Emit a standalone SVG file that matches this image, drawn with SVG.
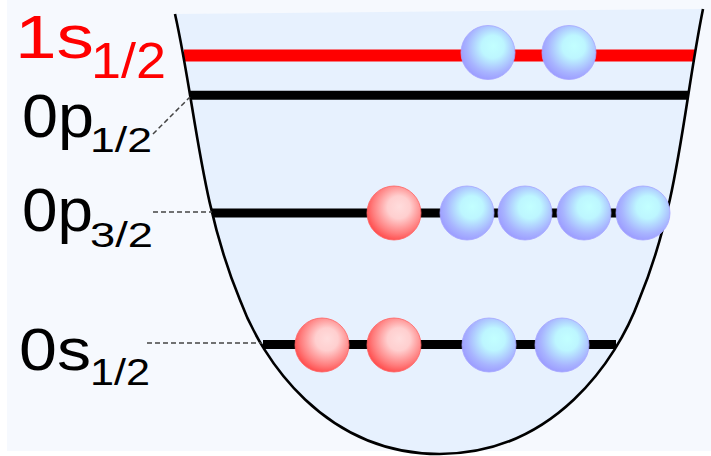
<svg xmlns="http://www.w3.org/2000/svg" width="711" height="456" viewBox="0 0 711 456">
  <defs>
    <radialGradient id="gBlue" cx="0.57" cy="0.42" r="0.6" fx="0.6" fy="0.38">
      <stop offset="0" stop-color="#c2ffff"/>
      <stop offset="0.35" stop-color="#bdf6ff"/>
      <stop offset="0.78" stop-color="#a8b4ff"/>
      <stop offset="1" stop-color="#9c9cff"/>
    </radialGradient>
    <radialGradient id="gRed" cx="0.57" cy="0.42" r="0.6" fx="0.6" fy="0.38">
      <stop offset="0" stop-color="#ffdcdc"/>
      <stop offset="0.35" stop-color="#ffcfcf"/>
      <stop offset="0.78" stop-color="#ff7d7d"/>
      <stop offset="1" stop-color="#ff4d4d"/>
    </radialGradient>
    <style>
      .lbl { font-family: "Liberation Sans", Arial, Helvetica, sans-serif; fill: #000; }
      .red { fill: #ff0000; }
      .lvl { stroke: #000; stroke-width: 9; fill: none; }
      .lvlred { stroke: #ff0000; stroke-width: 12; fill: none; }
      .lead { stroke: #444; stroke-width: 1.5; stroke-dasharray: 5 3; fill: none; }
      .blue { fill: url(#gBlue); stroke: #a6a6ff; stroke-width: 0.8; }
      .redb { fill: url(#gRed); stroke: #ff6262; stroke-width: 0.8; }
    </style>
  </defs>

  <rect x="0" y="0" width="711" height="456" fill="#ffffff"/>
  <rect x="7" y="0" width="704" height="451" fill="#f6f9fe"/>

  <g id="well">
    <path d="M175,14 C196,108 200,204 240,300 C262,360 325,454 439.5,454 C554,454 617,360 639,300 C679,204 683,108 703,9 Z" fill="#e7f1fe"/>
  </g>

  <g id="lines">
    <line class="lvlred" x1="184" y1="55.5" x2="695" y2="55.5"/>
    <line class="lvl" x1="190" y1="95.3" x2="688" y2="95.3"/>
    <line class="lvl" x1="212" y1="213" x2="666" y2="213"/>
    <line class="lvl" x1="263" y1="344.5" x2="616" y2="344.5"/>
  </g>

  <g id="well-outline">
    <path d="M175,14 C196,108 200,204 240,300 C262,360 325,454 439.5,454 C554,454 617,360 639,300 C679,204 683,108 703,9" fill="none" stroke="#000" stroke-width="2.6"/>
  </g>

  <g id="connectors">
    <line class="lead" x1="153" y1="134" x2="190" y2="97"/>
    <line class="lead" x1="153" y1="212" x2="212" y2="212"/>
    <line class="lead" x1="147" y1="343" x2="262" y2="343"/>
  </g>

  <g id="level-1s12">
    <text class="lbl red" x="15" y="58" font-size="61" textLength="79" lengthAdjust="spacingAndGlyphs">1s</text>
    <text class="lbl red" x="91" y="78" font-size="50" textLength="75" lengthAdjust="spacingAndGlyphs">1/2</text>
    <circle class="blue" cx="488" cy="52.5" r="27"/>
    <circle class="blue" cx="569" cy="52.5" r="27"/>
  </g>

  <g id="level-0p12">
    <text class="lbl" x="22" y="137" font-size="61" textLength="72" lengthAdjust="spacingAndGlyphs">0p</text>
    <text class="lbl" x="90" y="152" font-size="35" textLength="62" lengthAdjust="spacingAndGlyphs">1/2</text>
  </g>

  <g id="level-0p32">
    <text class="lbl" x="22" y="231" font-size="61" textLength="71" lengthAdjust="spacingAndGlyphs">0p</text>
    <text class="lbl" x="90" y="247" font-size="35" textLength="63" lengthAdjust="spacingAndGlyphs">3/2</text>
    <circle class="redb" cx="394" cy="213" r="27"/>
    <circle class="blue" cx="467" cy="213" r="27"/>
    <circle class="blue" cx="525" cy="213" r="27"/>
    <circle class="blue" cx="584" cy="213" r="27"/>
    <circle class="blue" cx="643" cy="213" r="27"/>
  </g>

  <g id="level-0s12">
    <text class="lbl" x="19" y="370" font-size="60" textLength="72" lengthAdjust="spacingAndGlyphs">0s</text>
    <text class="lbl" x="90" y="385" font-size="36" textLength="60" lengthAdjust="spacingAndGlyphs">1/2</text>
    <circle class="redb" cx="322" cy="345" r="27"/>
    <circle class="redb" cx="394" cy="345" r="27"/>
    <circle class="blue" cx="489" cy="345" r="27"/>
    <circle class="blue" cx="562" cy="345" r="27"/>
  </g>
</svg>
